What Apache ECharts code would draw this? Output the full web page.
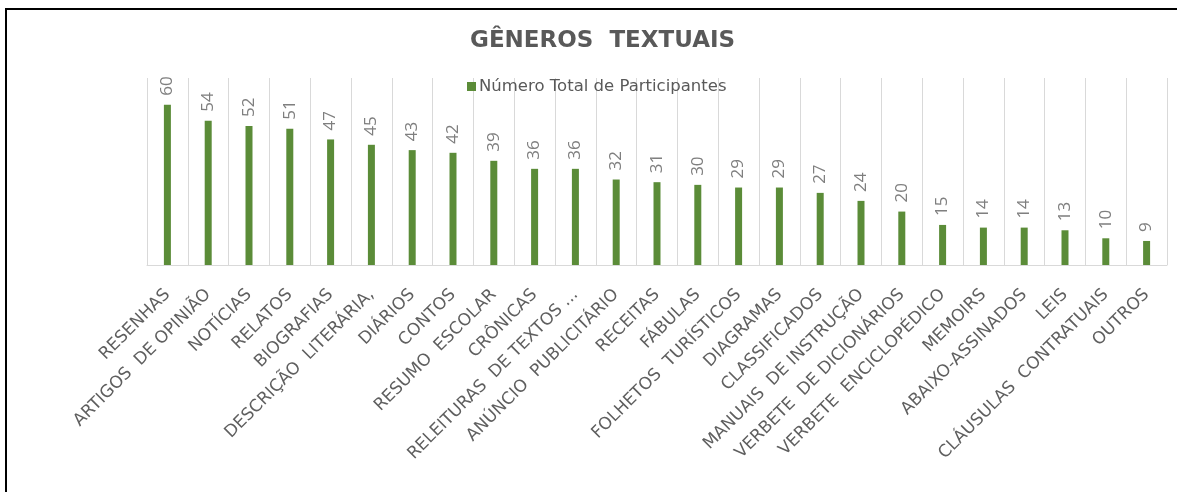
<!DOCTYPE html>
<html>
<head>
<meta charset="utf-8">
<script src="https://cdn.jsdelivr.net/npm/echarts@6/dist/echarts.min.js"></script>
<style>
  html, body { margin: 0; padding: 0; background: #fff; overflow: hidden; }
  #chart { width: 1177px; height: 492px; }
  #frame {
    position: absolute; left: 5px; top: 8px; width: 1180px; height: 500px;
    border-left: 2px solid #000; border-top: 2px solid #000; pointer-events: none;
  }
</style>
</head>
<body>
<div id="chart"></div>
<div id="frame"></div>
<script>
var generos = [
  'RESENHAS', 'ARTIGOS  DE OPINIÃO', 'NOTÍCIAS', 'RELATOS', 'BIOGRAFIAS',
  'DESCRIÇÃO  LITERÁRIA,', 'DIÁRIOS', 'CONTOS', 'RESUMO  ESCOLAR', 'CRÔNICAS',
  'RELEITURAS  DE TEXTOS ...', 'ANÚNCIO  PUBLICITÁRIO', 'RECEITAS', 'FÁBULAS',
  'FOLHETOS  TURÍSTICOS', 'DIAGRAMAS', 'CLASSIFICADOS', 'MANUAIS  DE INSTRUÇÃO',
  'VERBETE  DE DICIONÁRIOS', 'VERBETE  ENCICLOPÉDICO', 'MEMOIRS', 'ABAIXO-ASSINADOS',
  'LEIS', 'CLÁUSULAS  CONTRATUAIS', 'OUTROS'
]
var participantes = [60, 54, 52, 51, 47, 45, 43, 42, 39, 36, 36, 32, 31, 30, 29, 29, 27, 24, 20, 15, 14, 14, 13, 10, 9]

var myChart = echarts.init(document.getElementById('chart'), null, { renderer: 'canvas' })
myChart.setOption({
  animation: false,
  textStyle: { fontFamily: 'DejaVu Sans' },
  title: {
    text: 'GÊNEROS  TEXTUAIS',
    left: 465,
    top: 25,
    textStyle: { fontSize: 23, fontWeight: 'bold', color: '#595959', fontFamily: 'DejaVu Sans' },
  },
  legend: {
    top: 73,
    left: 462,
    itemWidth: 9,
    itemHeight: 9,
    itemGap: 4,
    icon: 'rect',
    textStyle: { fontSize: 16.5, color: '#595959', fontFamily: 'DejaVu Sans', padding: [0, 0, 0, -2] },
    data: ['Número Total de Participantes'],
  },
  grid: { left: 147, right: 10, top: 78, bottom: 227 },
  xAxis: {
    type: 'category',
    data: generos,
    axisLine: { lineStyle: { color: '#d9d9d9', width: 1 } },
    axisTick: { show: false },
    splitLine: { show: true, interval: 0, lineStyle: { color: '#d9d9d9', width: 1 } },
    axisLabel: {
      interval: 0,
      rotate: 45,
      margin: 27,
      fontSize: 17,
      color: '#5f5f5f',
      fontFamily: 'DejaVu Sans',
    },
  },
  yAxis: {
    type: 'value',
    min: 0,
    max: 70,
    show: false,
    splitLine: { show: false },
  },
  series: [
    {
      name: 'Número Total de Participantes',
      type: 'bar',
      data: participantes,
      barWidth: 7,
      itemStyle: { color: '#5b8c38' },
      label: {
        show: true,
        position: 'top',
        rotate: 90,
        align: 'left',
        verticalAlign: 'middle',
        distance: 9,
        fontSize: 17,
        color: '#7f7f7f',
        fontFamily: 'Open Sans',
      },
    },
  ],
})
</script>
</body>
</html>
